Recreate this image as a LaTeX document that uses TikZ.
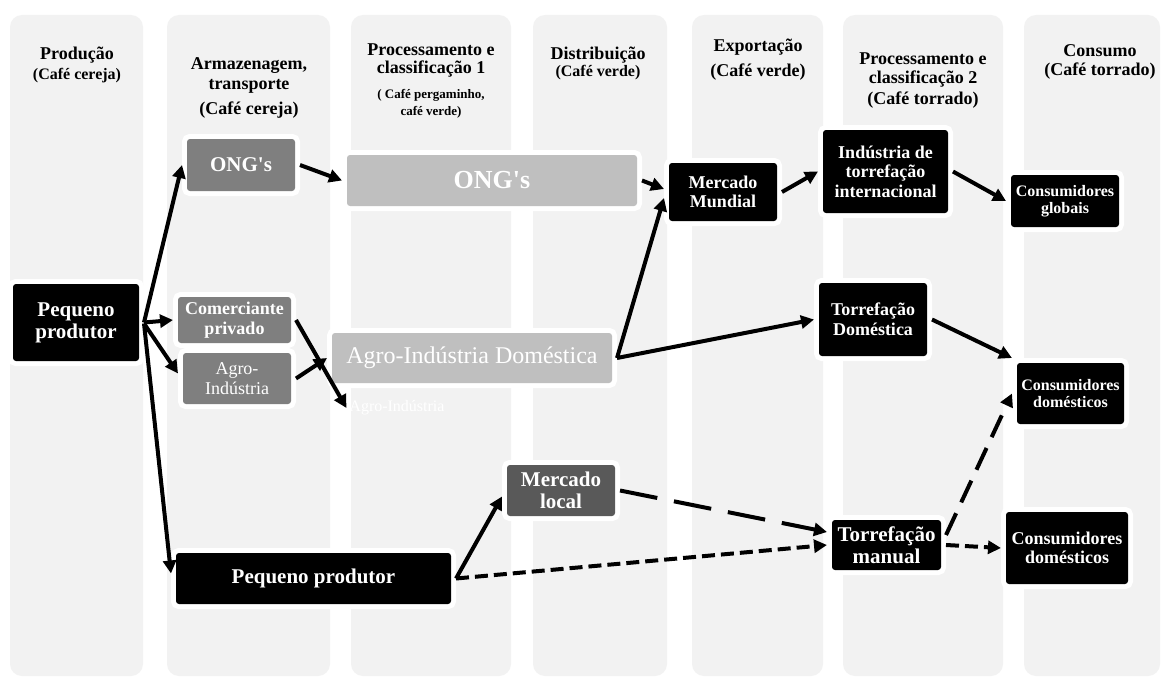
\documentclass[tikz,border=0pt]{standalone}
\usepackage{fontspec}
\setmainfont{Liberation Serif}
\usetikzlibrary{arrows.meta}
\definecolor{colbg}{HTML}{F2F2F2}
\definecolor{midgray}{HTML}{7F7F7F}
\definecolor{lightgraybox}{HTML}{BFBFBF}
\definecolor{darkgraybox}{HTML}{595959}
\newcommand{\fsz}[2]{\fontsize{#1}{#2}\selectfont}
\newcommand{\straightq}{{\addfontfeature{Ligatures=TeXOff}'}}
\tikzset{
  colbox/.style={fill=colbg, rounded corners=12pt},
  box/.style={rounded corners=3pt, align=center, text=white, inner sep=0pt, outer sep=5pt,
    preaction={draw=white, line width=10pt}},
  hdr/.style={anchor=base, inner sep=0pt, align=center},
  arr/.style={line width=4pt, -{Triangle[length=13pt,width=13pt]}},
  shortdash/.style={dash pattern=on 13pt off 6pt},
  longdash/.style={dash pattern=on 38pt off 17pt},
  meddash/.style={dash pattern=on 24pt off 12pt}
}
\begin{document}
\begin{tikzpicture}[x=1pt,y=-1pt]
\useasboundingbox (0,0) rectangle (1163,677);
\fill[white] (0,0) rectangle (1163,677);
% columns
\fill[colbox] (10,15) rectangle (143,676);
\fill[colbox] (167,15) rectangle (330,676);
\fill[colbox] (351,15) rectangle (511,676);
\fill[colbox] (533,15) rectangle (667,676);
\fill[colbox] (692,15) rectangle (823,676);
\fill[colbox] (843,15) rectangle (1003,676);
\fill[colbox] (1024,15) rectangle (1160,676);
% headers
\node[hdr, font=\fsz{18}{20}\bfseries] (h1a) at (77,60) {Produção};
\node[hdr, font=\fsz{16}{18}\bfseries] (h1b) at (77,80) {(Café cereja)};
\node[hdr, font=\fsz{18}{20}\bfseries] (h2a) at (249,70) {Armazenagem,};
\node[hdr, font=\fsz{18}{20}\bfseries] (h2b) at (249,89) {transporte};
\node[hdr, font=\fsz{18}{20}\bfseries] (h2c) at (249,114) {(Café cereja)};
\node[hdr, font=\fsz{18}{20}\bfseries] (h3a) at (431,56) {Processamento e};
\node[hdr, font=\fsz{18}{20}\bfseries] (h3b) at (431,74) {classificação 1};
\node[hdr, font=\fsz{13}{15}\bfseries] (h3c) at (431,99) {( Café pergaminho,};
\node[hdr, font=\fsz{13}{15}\bfseries] (h3d) at (431,115) {café verde)};
\node[hdr, font=\fsz{18}{20}\bfseries] (h4a) at (598,60) {Distribuição};
\node[hdr, font=\fsz{16}{18}\bfseries] (h4b) at (598,77) {(Café verde)};
\node[hdr, font=\fsz{18}{20}\bfseries] (h5a) at (758,52) {Exportação};
\node[hdr, font=\fsz{18}{20}\bfseries] (h5b) at (758,77) {(Café verde)};
\node[hdr, font=\fsz{18}{20}\bfseries] (h6a) at (923,65) {Processamento e};
\node[hdr, font=\fsz{18}{20}\bfseries] (h6b) at (923,84) {classificação 2};
\node[hdr, font=\fsz{18}{20}\bfseries] (h6c) at (923,104) {(Café torrado)};
\node[hdr, font=\fsz{18}{20}\bfseries] (h7a) at (1100,57) {Consumo};
\node[hdr, font=\fsz{18}{20}\bfseries] (h7b) at (1100,76) {(Café torrado)};
% boxes
\node[box, fill=black, minimum width=126pt, minimum height=77pt, font=\fsz{21}{22}\bfseries] (pp1) at (76,322.5) {Pequeno\\produtor};
\node[box, fill=midgray, minimum width=108pt, minimum height=52pt, font=\fsz{21}{22}\bfseries] (ong1) at (241,165) {ONG\straightq s};
\node[box, fill=lightgraybox, minimum width=290pt, minimum height=51pt, font=\fsz{26}{28}\bfseries] (ong2) at (492,180.5) {ONG\straightq s};
\node[box, fill=midgray, minimum width=113pt, minimum height=46pt, font=\fsz{18}{20}\bfseries] (com) at (234.5,320) {Comerciante\\privado};
\node[box, fill=midgray, minimum width=108pt, minimum height=51pt, font=\fsz{18}{20}] (agro) at (237,378.5) {Agro-\\Indústria};
\node[box, fill=lightgraybox, minimum width=280pt, minimum height=50pt, font=\fsz{24}{26}] (agrodom) at (472,358) {Agro-Indústria Doméstica};
\node[inner sep=0pt, outer sep=3pt, text=white, font=\fsz{16}{18}] (agrotxt) at (397,408) {Agro-Indústria};
\node[box, fill=black, minimum width=108pt, minimum height=58pt, font=\fsz{18}{19.5}\bfseries] (mm) at (723,192) {Mercado\\Mundial};
\node[box, fill=black, minimum width=125pt, minimum height=83pt, font=\fsz{18}{19.5}\bfseries] (ind) at (885.5,171.5) {Indústria de\\torrefação\\internacional};
\node[box, fill=black, minimum width=108pt, minimum height=52pt, font=\fsz{16}{17}\bfseries] (cg) at (1065,201) {Consumidores\\globais};
\node[box, fill=black, minimum width=108pt, minimum height=73pt, font=\fsz{18}{20}\bfseries] (td) at (873,319.5) {Torrefação\\Doméstica};
\node[box, fill=black, minimum width=107pt, minimum height=61pt, font=\fsz{16}{17}\bfseries] (cd1) at (1070.5,393.5) {Consumidores\\domésticos};
\node[box, fill=darkgraybox, minimum width=108pt, minimum height=51pt, font=\fsz{21}{22}\bfseries] (ml) at (561,490.5) {Mercado\\local};
\node[box, fill=black, minimum width=109pt, minimum height=50pt, font=\fsz{21}{22}\bfseries] (tm) at (886.5,545) {Torrefação\\manual};
\node[box, fill=black, minimum width=122pt, minimum height=72pt, font=\fsz{18}{19}\bfseries] (cd2) at (1067,548) {Consumidores\\domésticos};
\node[box, fill=black, minimum width=275pt, minimum height=51pt, font=\fsz{21}{22}\bfseries] (pp2) at (313.5,578.5) {Pequeno produtor};
% connectors
\draw[arr] (pp1.east) -- (ong1.west);
\draw[arr] (pp1.east) -- (com.west);
\draw[arr] ([yshift=-1pt]pp1.east) -- ([yshift=5pt]agro.west);
\draw[arr] ([yshift=-1pt]pp1.east) -- ([yshift=5pt]pp2.west);
\draw[arr] (ong1.east) -- (ong2.west);
\draw[arr] (com.east) -- (agrotxt.west);
\draw[arr] (agro.east) -- (agrodom.west);
\draw[arr] (ong2.east) -- ([yshift=3pt]mm.west);
\draw[arr] (agrodom.east) -- ([yshift=-6pt]mm.west);
\draw[arr] (agrodom.east) -- (td.west);
\draw[arr] (mm.east) -- (ind.west);
\draw[arr] (ind.east) -- (cg.west);
\draw[arr] (td.east) -- (cd1.north west);
\draw[arr] (pp2.east) -- ([yshift=-6pt]ml.west);
\draw[arr, shortdash] (pp2.east) -- (tm.west);
\draw[arr, longdash] (ml.east) -- ([yshift=13pt]tm.west);
\draw[arr, shortdash] (tm.east) -- (cd2.west);
\draw[arr, meddash] ([yshift=10pt]tm.east) -- (cd1.west);
\end{tikzpicture}
\end{document}
